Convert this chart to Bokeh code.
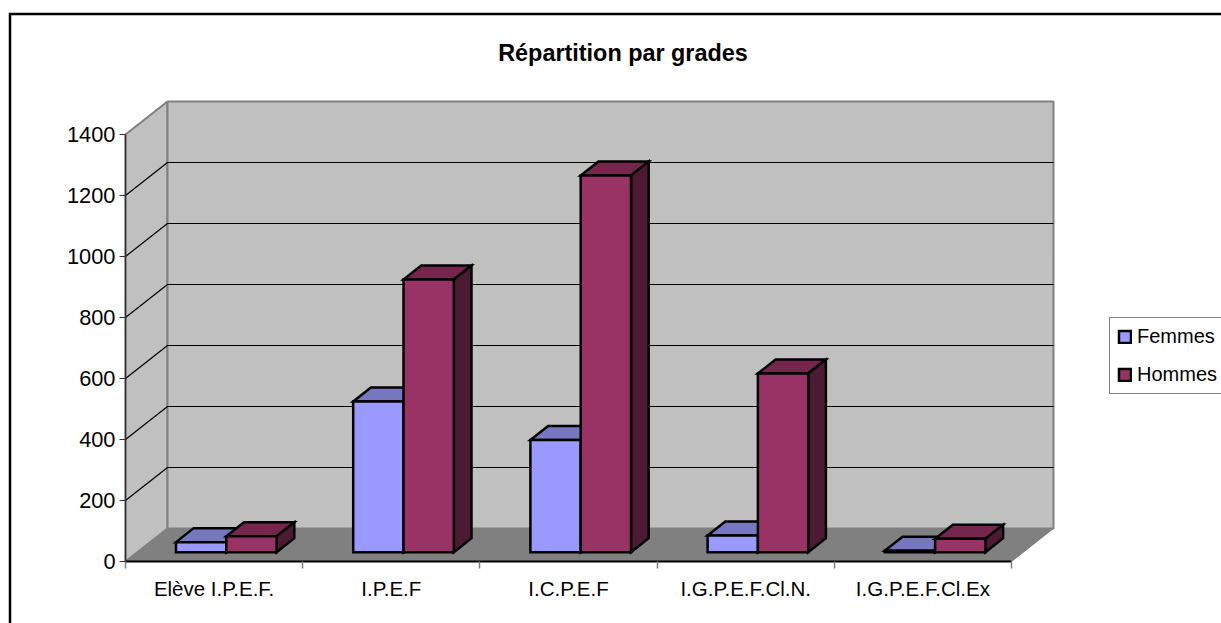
from bokeh.plotting import figure
from bokeh.models import FixedTicker, Legend, LegendItem, Label, LinearAxis, ColumnDataSource
from bokeh.embed import file_html
from bokeh.resources import INLINE

# ---- data
categories = ["Elève I.P.E.F.", "I.P.E.F", "I.C.P.E.F", "I.G.P.E.F.Cl.N.", "I.G.P.E.F.Cl.Ex"]
femmes = [33, 494, 368, 55, 5]
hommes = [52, 894, 1235, 586, 44]
y_ticks = [0, 200, 400, 600, 800, 1000, 1200, 1400]
title_text = "Répartition par grades"
FONT = "Liberation Sans"

# ---- geometry (pixels on the page)
W, H = 1221, 623
AX_X0, AX_X5 = 125.0, 1011.0      # x-axis ends
AX_Y0, AX_Y1400 = 561.0, 134.0    # y-axis ends
PX_X = (AX_X5 - AX_X0) / len(categories)
PX_Y = (AX_Y0 - AX_Y1400) / max(y_ticks)

def xd(px):
    return (px - AX_X0) / PX_X

def yd(py):
    return (AX_Y0 - py) / PX_Y

DX_WALL = 42 / PX_X       # depth of the room
DY_WALL = 33 / PX_Y
DX_BAR = 17.7 / PX_X      # depth of a bar
DY_BAR = 14 / PX_Y
BAR_W = 50.3 / PX_X
BAR_X0 = 50.5 / PX_X      # first bar's left edge inside a category
BAR_BASE = 9.3 / PX_Y     # height of bar feet above the axis
BAR_LINE = 2.5

FLOOR = "#808080"
WALL = "#C0C0C0"
EDGE = "#808080"
F_FRONT, F_TOP, F_SIDE = "#9999FF", "#7777BF", "#4D4D80"
H_FRONT, H_TOP, H_SIDE = "#993366", "#74264D", "#4C1A33"

p = figure(width=W, height=H, output_backend="svg", toolbar_location=None,
           x_range=(xd(0), xd(W)), y_range=(yd(H), yd(0)),
           x_axis_type=None, y_axis_type=None,
           min_border=0, min_border_left=0, min_border_right=0,
           min_border_top=0, min_border_bottom=0)
p.grid.visible = False
p.outline_line_color = None
p.background_fill_color = "white"

top = max(y_ticks)
n = len(categories)

# chart area border (runs off the page at right and bottom)
p.line([xd(9.5), xd(9.5), xd(W + 5)], [yd(H + 5), yd(13.5), yd(13.5)],
       line_color="black", line_width=2.5, line_join="miter")

# room: left wall, back wall, floor
p.patch([0, DX_WALL, DX_WALL, 0], [0, DY_WALL, top + DY_WALL, top], fill_color=WALL, line_color=EDGE, line_width=2)
p.patch([DX_WALL, n + DX_WALL, n + DX_WALL, DX_WALL], [DY_WALL, DY_WALL, top + DY_WALL, top + DY_WALL],
        fill_color=WALL, line_color=EDGE, line_width=2)
p.patch([0, n, n + DX_WALL, DX_WALL], [0, 0, DY_WALL, DY_WALL], fill_color=FLOOR, line_color=EDGE, line_width=1)

# gridlines on both walls
grid = [t for t in y_ticks if 0 < t < top]
p.multi_line([[0, DX_WALL, n + DX_WALL] for _ in grid],
             [[t, t + DY_WALL, t + DY_WALL] for t in grid],
             line_color="black", line_width=1.2)


def draw_series(values, offset, front, top_c, side):
    lefts = [i + BAR_X0 + offset * BAR_W for i in range(len(values))]
    rights = [l + BAR_W for l in lefts]
    tops = [v + BAR_BASE for v in values]
    p.patches([[l, r, r + DX_BAR, l + DX_BAR] for l, r in zip(lefts, rights)],
              [[t, t, t + DY_BAR, t + DY_BAR] for t in tops],
              fill_color=top_c, line_color="black", line_width=BAR_LINE, line_join="miter")
    p.patches([[r, r + DX_BAR, r + DX_BAR, r] for r in rights],
              [[BAR_BASE, BAR_BASE + DY_BAR, t + DY_BAR, t] for t in tops],
              fill_color=side, line_color="black", line_width=BAR_LINE, line_join="miter")
    src = ColumnDataSource(dict(x=[l + BAR_W / 2 for l in lefts], top=tops, bottom=[BAR_BASE] * len(tops)))
    return p.vbar(x="x", top="top", bottom="bottom", width=BAR_W, source=src,
                  fill_color=front, line_color="black", line_width=BAR_LINE, line_join="miter")


r_f = draw_series(femmes, 0, F_FRONT, F_TOP, F_SIDE)
r_h = draw_series(hommes, 1, H_FRONT, H_TOP, H_SIDE)

# axes, pinned to the room's front edges
y_axis = LinearAxis(fixed_location=0, bounds=(0, top), ticker=FixedTicker(ticks=y_ticks))
y_axis.axis_line_color = "#333333"
y_axis.axis_line_width = 1.5
y_axis.major_tick_line_color = "#333333"
y_axis.major_tick_out = 6
y_axis.major_tick_in = 0
y_axis.minor_tick_line_color = None
y_axis.major_label_standoff = 4
y_axis.major_label_text_font = FONT
y_axis.major_label_text_font_size = "21.8px"
y_axis.major_label_text_color = "black"
p.add_layout(y_axis, "left")

x_axis = LinearAxis(fixed_location=0, bounds=(0, n),
                    ticker=FixedTicker(ticks=[i + 0.5 for i in range(n)], minor_ticks=list(range(n + 1))))
x_axis.major_label_overrides = {i + 0.5: c for i, c in enumerate(categories)}
x_axis.axis_line_color = "black"
x_axis.axis_line_width = 2
x_axis.major_tick_line_color = None
x_axis.major_tick_out = 0
x_axis.major_tick_in = 0
x_axis.minor_tick_line_color = "#808080"
x_axis.minor_tick_line_width = 1.5
x_axis.minor_tick_out = 7
x_axis.minor_tick_in = 0
x_axis.major_label_standoff = 8
x_axis.major_label_text_font = FONT
x_axis.major_label_text_font_size = "20.5px"
x_axis.major_label_text_color = "black"
p.add_layout(x_axis, "below")

# title
p.add_layout(Label(x=xd(622.5), y=yd(52), text=title_text, text_align="center", text_baseline="middle",
                   text_font=FONT, text_font_style="bold", text_font_size="23.4px", text_color="black"))

# legend
legend = Legend(items=[LegendItem(label="Femmes", renderers=[r_f]), LegendItem(label="Hommes", renderers=[r_h])],
                location=(1109, H - 394),
                glyph_width=15, glyph_height=15, label_standoff=5, spacing=15, padding=7, margin=0,
                label_text_font=FONT, label_text_font_size="20px", label_text_color="black",
                label_height=20, border_line_color="black", border_line_width=1.5,
                background_fill_color="white", background_fill_alpha=1)
p.add_layout(legend, "center")

open("out.html", "w").write(file_html(p, INLINE))
